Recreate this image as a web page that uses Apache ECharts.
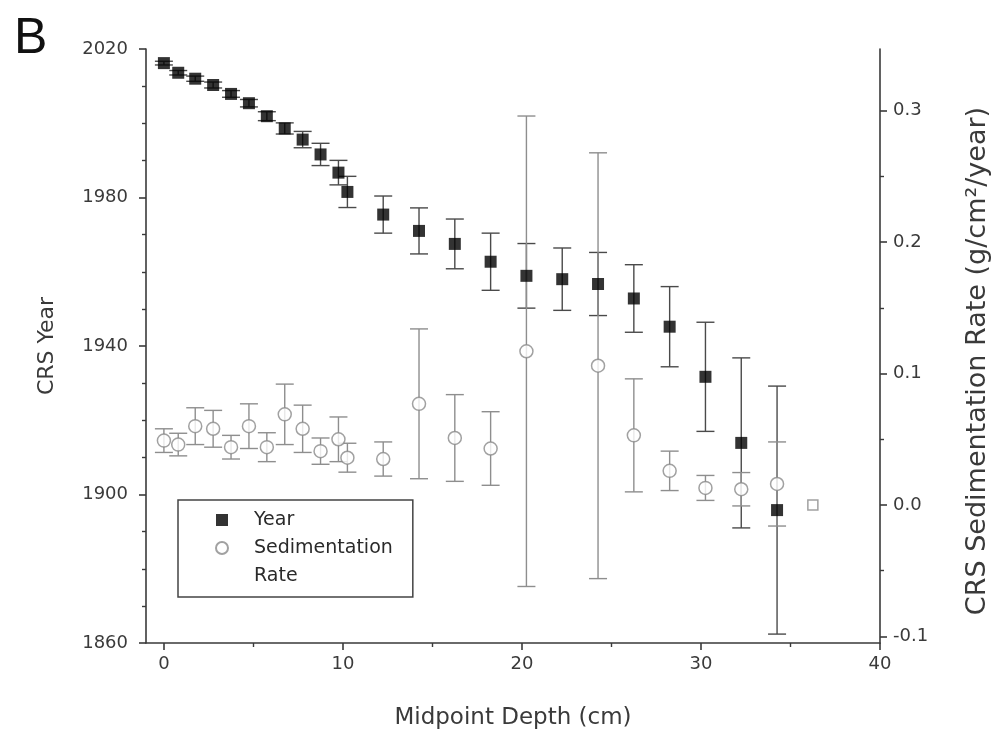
<!DOCTYPE html>
<html>
<head>
<meta charset="utf-8">
<script src="https://cdn.jsdelivr.net/npm/echarts@6/dist/echarts.min.js"></script>
<style>
  html, body { margin: 0; padding: 0; background: #fff; }
  #chart { width: 994px; height: 738px; }
</style>
</head>
<body>
<div id="chart"></div>
<script>
// values
const yearDepth = [0.0, 0.8, 1.75, 2.75, 3.75, 4.75, 5.75, 6.75, 7.75, 8.75, 9.75, 10.25,
  12.25, 14.25, 16.25, 18.25, 20.25, 22.25, 24.25, 26.25, 28.25, 30.25, 32.25, 34.25];
const year = [2016.2, 2013.6, 2012.0, 2010.3, 2007.9, 2005.4, 2001.9, 1998.6, 1995.6, 1991.6, 1986.7, 1981.5,
  1975.4, 1971.0, 1967.5, 1962.7, 1958.9, 1958.0, 1956.7, 1952.8, 1945.2, 1931.7, 1913.9, 1895.8];
const yearErr = [0.5, 0.6, 0.7, 0.8, 0.9, 1.0, 1.2, 1.5, 2.2, 3.0, 3.3, 4.2,
  5.0, 6.2, 6.7, 7.7, 8.7, 8.4, 8.5, 9.1, 10.8, 14.7, 22.9, 33.4];

const sedDepth = [0.0, 0.8, 1.75, 2.75, 3.75, 4.75, 5.75, 6.75, 7.75, 8.75, 9.75, 10.25,
  12.25, 14.25, 16.25, 18.25, 20.25, 24.25, 26.25, 28.25, 30.25, 32.25, 34.25];
const sedRate = [0.049, 0.046, 0.060, 0.058, 0.044, 0.060, 0.044, 0.069, 0.058, 0.041, 0.050, 0.036,
  0.035, 0.077, 0.051, 0.043, 0.117, 0.106, 0.053, 0.026, 0.013, 0.012, 0.016];
const sedErr = [0.009, 0.0086, 0.014, 0.014, 0.009, 0.017, 0.011, 0.023, 0.018, 0.010, 0.017, 0.011,
  0.013, 0.057, 0.033, 0.028, 0.179, 0.162, 0.043, 0.015, 0.0095, 0.0127, 0.032];

// lone open square past the last sample
const tailDepth = [36.25];
const tailRate = [0.0];

const xMajor = [0, 10, 20, 30, 40];
const xMinor = [5, 15, 25, 35];
const yearMajor = [1860, 1900, 1940, 1980, 2020];
const yearMinor = [1870, 1880, 1890, 1910, 1920, 1930, 1950, 1960, 1970, 1990, 2000, 2010];
const rateMajor = [-0.1, 0.0, 0.1, 0.2, 0.3];
const rateMinor = [-0.05, 0.05, 0.15, 0.25];

const FONT = "DejaVu Sans";
const AXIS = "#3a3a3a";
const LABEL = "#3a3a3a";

const zip = (a, b) => a.map((v, i) => [v, b[i]]);
const bars = (xs, ys, es) => xs.map((x, i) => [x, ys[i] - es[i], ys[i] + es[i]]);

function errorBars(color) {
  return function (params, api) {
    const x = api.value(0);
    const top = api.coord([x, api.value(2)]);
    const bot = api.coord([x, api.value(1)]);
    const half = 9;
    const style = { stroke: color, lineWidth: 1.4 };
    return {
      type: "group",
      children: [
        { type: "line", shape: { x1: top[0], y1: top[1], x2: bot[0], y2: bot[1] }, style },
        { type: "line", shape: { x1: top[0] - half, y1: top[1], x2: top[0] + half, y2: top[1] }, style },
        { type: "line", shape: { x1: bot[0] - half, y1: bot[1], x2: bot[0] + half, y2: bot[1] }, style },
      ],
    };
  };
}

const tickLabel = { color: LABEL, fontFamily: FONT, fontSize: 18 };
const line = { show: true, onZero: false, lineStyle: { color: AXIS, width: 1.6 } };
const noLine = { show: false, onZero: false };

const chart = echarts.init(document.getElementById("chart"));
chart.setOption({
  animation: false,
  backgroundColor: "#fff",
  grid: { left: 146, right: 114, top: 49, bottom: 95, outerBoundsMode: "none" },
  graphic: [
    { type: "text", left: 14, top: 14, style: { text: "B", font: "50px 'Liberation Sans'", fill: "#111" } },
  ],
  legend: {
    orient: "vertical",
    left: 178,
    top: 500,
    padding: [6, 20, 7, 37],
    itemWidth: 12,
    itemHeight: 12,
    itemGap: -28,
    borderColor: "#444",
    borderWidth: 1.5,
    borderRadius: 0,
    textStyle: { color: "#2a2a2a", fontFamily: FONT, fontSize: 19, lineHeight: 28, padding: [0, 0, 0, 21] },
    // the empty first line keeps the circle level with "Sedimentation"
    formatter: (n) => (n === "Sedimentation Rate" ? "\nSedimentation\nRate" : n),
    data: ["Year", "Sedimentation Rate"],
  },
  xAxis: [
    {
      type: "value", min: -1, max: 40, position: "bottom",
      name: "Midpoint Depth (cm)", nameLocation: "middle", nameGap: 64,
      nameTextStyle: { color: LABEL, fontFamily: FONT, fontSize: 23 },
      axisLine: line,
      axisTick: { show: true, inside: false, length: 7, customValues: xMajor, lineStyle: { color: AXIS, width: 1.6 } },
      axisLabel: { ...tickLabel, margin: 12, customValues: xMajor },
      splitLine: { show: false },
    },
    {
      type: "value", min: -1, max: 40, position: "bottom",
      axisLine: noLine,
      axisTick: { show: true, length: 4, customValues: xMinor, lineStyle: { color: AXIS, width: 1.4 } },
      axisLabel: { show: false },
      splitLine: { show: false },
    },
  ],
  yAxis: [
    {
      type: "value", min: 1860, max: 2020, position: "left",
      name: "CRS Year", nameLocation: "middle", nameGap: 88, nameRotate: 90,
      nameTextStyle: { color: LABEL, fontFamily: FONT, fontSize: 22 },
      axisLine: line,
      axisTick: { show: true, length: 7, customValues: yearMajor, lineStyle: { color: AXIS, width: 1.6 } },
      axisLabel: { ...tickLabel, margin: 18, customValues: yearMajor, formatter: (v) => String(v) },
      splitLine: { show: false },
    },
    {
      type: "value", min: -0.105, max: 0.347, position: "right",
      name: "CRS Sedimentation Rate (g/cm²/year)", nameLocation: "middle", nameGap: 84, nameRotate: 90,
      nameTextStyle: { color: LABEL, fontFamily: FONT, fontSize: 27, padding: [0, 30, 0, 0] },
      axisLine: line,
      axisTick: { show: true, length: 7, customValues: rateMajor, lineStyle: { color: AXIS, width: 1.6 } },
      axisLabel: { ...tickLabel, margin: 13, customValues: rateMajor, formatter: (v) => v.toFixed(1) },
      splitLine: { show: false },
    },
    {
      type: "value", min: 1860, max: 2020, position: "left",
      axisLine: noLine,
      axisTick: { show: true, length: 4, customValues: yearMinor, lineStyle: { color: AXIS, width: 1.4 } },
      axisLabel: { show: false },
      splitLine: { show: false },
    },
    {
      type: "value", min: -0.105, max: 0.347, position: "right",
      axisLine: noLine,
      axisTick: { show: true, length: 4, customValues: rateMinor, lineStyle: { color: AXIS, width: 1.4 } },
      axisLabel: { show: false },
      splitLine: { show: false },
    },
  ],
  series: [
    {
      name: "yearErr", type: "custom", xAxisIndex: 0, yAxisIndex: 0,
      renderItem: errorBars("#4a4a4a"), encode: { x: 0, y: [1, 2] },
      data: bars(yearDepth, year, yearErr), z: 2, silent: true,
    },
    {
      name: "sedErr", type: "custom", xAxisIndex: 0, yAxisIndex: 1,
      renderItem: errorBars("#8e8e8e"), encode: { x: 0, y: [1, 2] },
      data: bars(sedDepth, sedRate, sedErr), z: 2, silent: true,
    },
    {
      name: "Year", type: "scatter", xAxisIndex: 0, yAxisIndex: 0,
      symbol: "rect", symbolSize: 12,
      itemStyle: { color: "#000" },
      data: zip(yearDepth, year), z: 4,
    },
    {
      name: "Sedimentation Rate", type: "scatter", xAxisIndex: 0, yAxisIndex: 1,
      symbol: "circle", symbolSize: 13,
      itemStyle: { color: "#fff", borderColor: "#8a8a8a", borderWidth: 1.5 },
      data: zip(sedDepth, sedRate), z: 3,
    },
    {
      name: "tail", type: "scatter", xAxisIndex: 0, yAxisIndex: 1,
      symbol: "rect", symbolSize: 10,
      itemStyle: { color: "#fff", borderColor: "#8a8a8a", borderWidth: 1.5 },
      data: zip(tailDepth, tailRate), z: 3,
    },
  ],
});
</script>
</body>
</html>
